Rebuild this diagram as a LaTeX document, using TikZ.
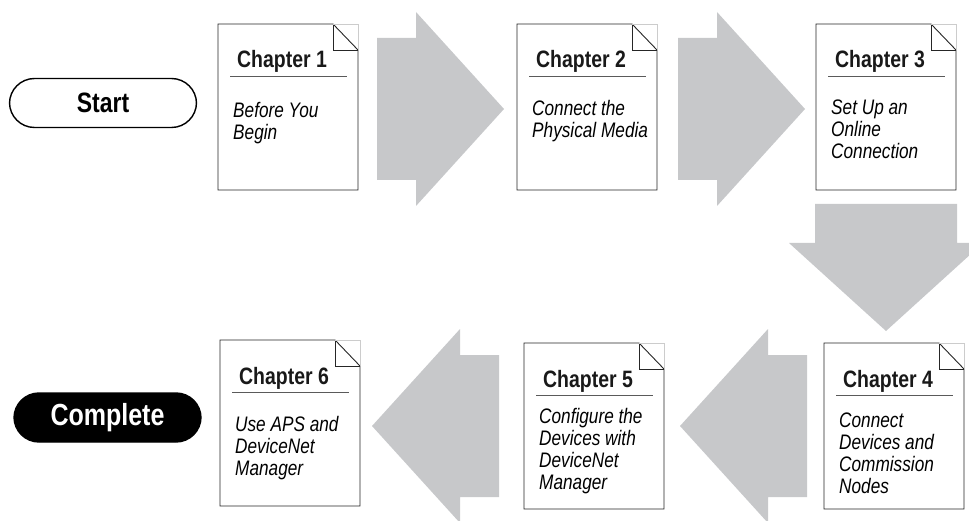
\documentclass[tikz,border=0pt]{standalone}
\usepackage{fontspec}
\setmainfont{Liberation Sans}[FakeStretch=0.82]
\definecolor{arrowgray}{RGB}{199,200,202}
\definecolor{rulegray}{RGB}{90,90,90}
\begin{document}
\begin{tikzpicture}[x=1pt,y=-1pt,
    page/.style={rectangle,anchor=north west,minimum width=140pt,minimum height=166pt,inner sep=0pt,outer sep=0pt},
    edge/.style={line width=0.9pt,black!85},
    title/.style={anchor=base west,inner sep=0pt,text=black!90,font=\fontsize{23.7}{26}\selectfont\bfseries},
    body/.style={anchor=north west,inner sep=0pt,align=left,execute at begin node=\strut,font=\fontsize{21}{22}\selectfont\itshape},
    oval/.style={rectangle,rounded corners=25pt,draw,line width=1.4pt,minimum width=187pt,minimum height=49pt,font=\fontsize{28}{30}\selectfont\bfseries},
    bigarrow/.pic={\fill[arrowgray] (0,-71) -- (39,-71) -- (39,-97) -- (127,0) -- (39,97) -- (39,71) -- (0,71) -- cycle;}]
        \useasboundingbox (0,0) rectangle (969,521);
        \node[oval] (start) at (103,103) {Start};
        \node[oval,fill=black,text=white,font=\fontsize{30.5}{32}\selectfont\bfseries] (done) at (107.5,417.5) {Complete};
        \foreach \n/\x/\y/\off/\txt in {1/218/24/93/{Before You\\Begin},
                2/517/24/91/{Connect the\\Physical Media},
                3/816/24/91/{Set Up an\\Online\\Connection},
                4/824/343/85/{Connect\\Devices and\\Commission\\Nodes},
                5/524/343/80/{Configure the\\Devices with\\DeviceNet\\Manager},
                6/220/340/91/{Use APS and\\DeviceNet\\Manager}}{
            \node[page] (p\n) at (\x,\y) {};
            \draw[edge] (p\n.north west) -- ([xshift=-25pt]p\n.north east) -- ([yshift=-26pt]p\n.north east) -- (p\n.south east) -- (p\n.south west) -- cycle;
            \draw[edge] ([xshift=-25pt]p\n.north east) |- ([yshift=-26pt]p\n.north east);
            \draw[black!20] ([xshift=-25pt]p\n.north east) -- (p\n.north east) -- ([yshift=-26pt]p\n.north east);
            \node[title] (t\n) at ([xshift=19pt,yshift=-44pt]p\n.north west) {Chapter \n};
            \draw[rulegray,line width=0.9pt] ([xshift=12pt,yshift=-52pt]p\n.north west) -- ([xshift=-11pt,yshift=-52pt]p\n.north east);
            \node[body] (b\n) at ([xshift=15pt,yshift=-\off+15.4]p\n.north west) {\txt};
        }
        \pic at ([xshift=19pt,yshift=-2pt]p1.east) {bigarrow};
        \pic at ([xshift=21pt,yshift=-2pt]p2.east) {bigarrow};
        \pic[rotate=-90] at ([yshift=-14pt]p3.south) {bigarrow};
        \pic[rotate=180] at ([xshift=-17pt]p4.west) {bigarrow};
        \pic[rotate=180] at ([xshift=-25pt]p5.west) {bigarrow};
\end{tikzpicture}
\end{document}
